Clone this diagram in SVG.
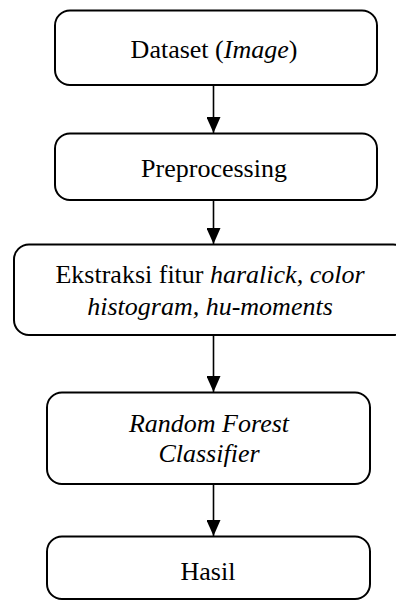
<svg xmlns="http://www.w3.org/2000/svg" width="396" height="601" viewBox="0 0 396 601">
<style>
.box{fill:#fff;stroke:#000;stroke-width:2}
text{font-family:'Liberation Serif','Times New Roman','DejaVu Serif',serif;font-size:26px;fill:#000;text-anchor:middle}
.i{font-style:italic}
.c{stroke:#000;stroke-width:1.6;fill:none}
</style>
<defs>
<marker id="ah" viewBox="0 0 16 14" refX="16" refY="7" markerWidth="16" markerHeight="14" markerUnits="userSpaceOnUse" orient="auto">
<path d="M0,0 L16,7 L0,14 Z" fill="#000"/>
</marker>
</defs>
<rect width="396" height="601" fill="#fff"/>
<g id="connectors">
<line class="c" x1="213.5" y1="85" x2="213.5" y2="133" marker-end="url(#ah)"/>
<line class="c" x1="213.5" y1="200" x2="213.5" y2="244" marker-end="url(#ah)"/>
<line class="c" x1="213.5" y1="335" x2="213.5" y2="392" marker-end="url(#ah)"/>
<line class="c" x1="213.5" y1="484" x2="213.5" y2="536" marker-end="url(#ah)"/>
</g>
<g id="n1">
<rect class="box" x="55" y="10.5" width="322" height="74.5" rx="15"/>
<text x="214" y="58" font-family="Liberation Serif, serif">Dataset (<tspan class="i">Image</tspan>)</text>
</g>
<g id="n2">
<rect class="box" x="55" y="133.5" width="322" height="66.5" rx="15"/>
<text x="214" y="177" font-family="Liberation Serif, serif">Preprocessing</text>
</g>
<g id="n3">
<rect class="box" x="14" y="244.5" width="394" height="90.5" rx="15"/>
<text x="210" y="283" font-family="Liberation Serif, serif">Ekstraksi fitur <tspan class="i">haralick, color</tspan></text>
<text class="i" x="210" y="315" font-family="Liberation Serif, serif">histogram, hu-moments</text>
</g>
<g id="n4">
<rect class="box" x="47" y="392.5" width="323" height="91.5" rx="15"/>
<text class="i" x="209" y="432" font-family="Liberation Serif, serif">Random Forest</text>
<text class="i" x="209" y="462" font-family="Liberation Serif, serif">Classifier</text>
</g>
<g id="n5">
<rect class="box" x="47" y="536.5" width="323" height="62.5" rx="15"/>
<text x="208" y="580" font-family="Liberation Serif, serif">Hasil</text>
</g>
</svg>
